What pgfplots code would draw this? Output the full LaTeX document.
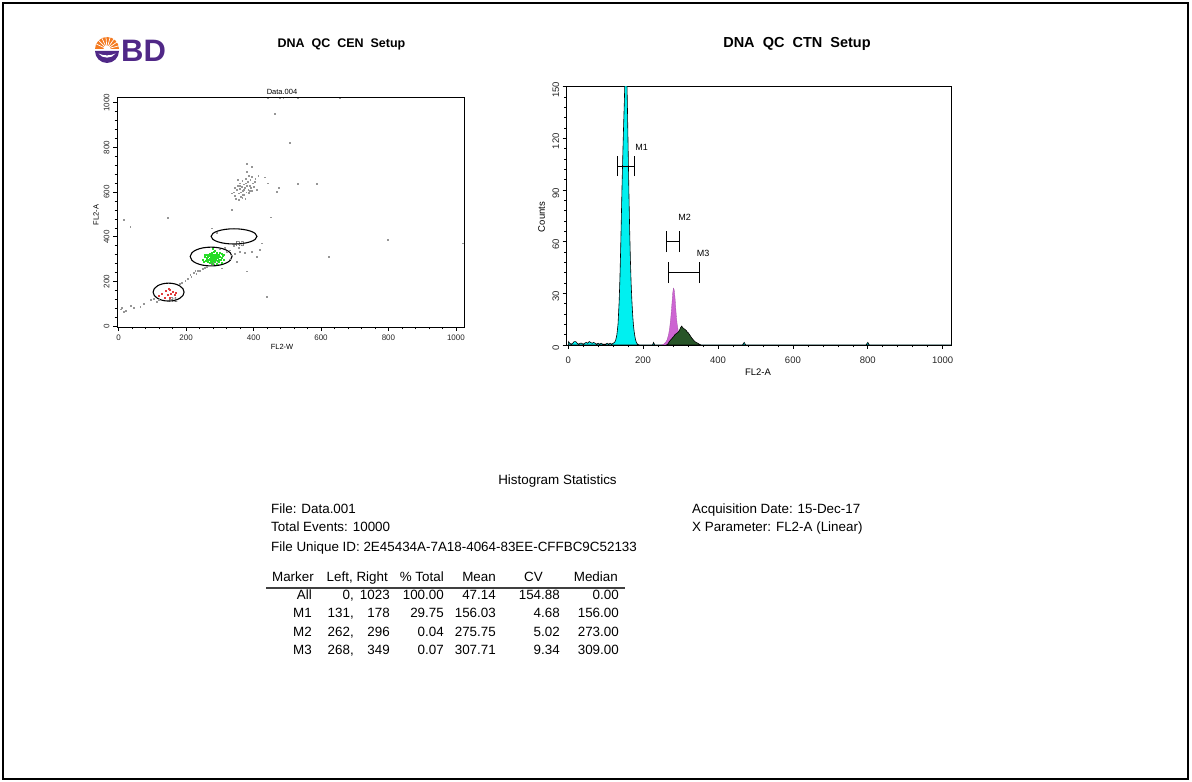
\documentclass[border=0pt]{standalone}
\usepackage{pgfplots}
\pgfplotsset{compat=1.18}
\usepackage{fontspec}
\setmainfont{Liberation Sans}
\definecolor{bdpurple}{RGB}{80,40,135}
\definecolor{bdorange}{RGB}{244,122,32}
\definecolor{hcyan}{RGB}{0,240,240}
\definecolor{hmag}{RGB}{205,100,210}
\definecolor{hgreen}{RGB}{40,85,40}
\definecolor{ptgray}{RGB}{150,150,150}
\definecolor{ptgreen}{RGB}{40,220,40}
\definecolor{ptred}{RGB}{225,60,60}
\begin{document}
\begin{tikzpicture}[x=1pt,y=1pt]
\path (0,0) rectangle (1192,782);
\draw[line width=2.2pt] (3,3) rectangle (1188,779);
% ---------- BD logo ----------
\fill[bdorange] (95,733) arc[start angle=180,end angle=0,radius=12] -- cycle;
\foreach \a in {15,35,...,165} \draw[white,line width=0.7pt] (107,733) -- ++(\a:12.5);
\fill[white] (107,733) circle[radius=3.5];
\fill[bdpurple] (95,731) arc[start angle=180,end angle=360,radius=12] -- cycle;
\fill[white] (98.5,728.5) .. controls (102,723) and (112,723) .. (115.5,728.5) .. controls (111,726) and (103,726) .. (98.5,728.5);
\node[anchor=west,inner sep=0pt,text=bdpurple,font=\bfseries\fontsize{31}{31}\selectfont] at (121,731) {BD};
% ---------- titles ----------
\node[font=\bfseries\fontsize{12.5}{12.5}\selectfont] at (341.5,738) {DNA\ \ QC\ \ CEN\ \ Setup};
\node[font=\bfseries\fontsize{14.5}{14.5}\selectfont] at (797,738) {DNA\ \ QC\ \ CTN\ \ Setup};
% ---------- scatter plot ----------
\begin{axis}[
  at={(117pt,455pt)}, anchor=south west, scale only axis,
  width=347pt, height=229.5pt,
  xmin=-5, xmax=1024, ymin=-3, ymax=1023,
  xtick={0,200,...,1000}, ytick={0,200,...,1000},
  minor x tick num=4, minor y tick num=4,
  tick pos=left, tick align=outside,
  major tick length=4pt, minor tick length=2.5pt,
  every tick/.style={black,line width=0.7pt},
  every minor tick/.style={black,line width=0.6pt},
  axis line style={line width=0.7pt},
  ticklabel style={font=\fontsize{8}{8}\selectfont,text=black!85},
  yticklabel style={rotate=90,anchor=south},
  /pgf/number format/assume math mode=true,
  /pgf/number format/1000 sep={},
]
\addplot[only marks,mark=square*,mark size=0.4pt,color=ptgray] coordinates {
(340,600)(345,585)(350,610)(352,630)(355,595)(358,640)(360,615)(362,580)(364,625)(366,650)
(368,605)(370,635)(372,590)(374,620)(376,660)(378,600)(380,630)(382,645)(384,612)(386,598)
(388,628)(390,655)(392,618)(395,605)(398,640)(400,625)(405,660)(410,610)(348,570)(356,565)
(366,575)(375,570)(343,620)(336,595)(385,675)(395,670)(403,645)(380,690)(352,655)(362,600)
(371,612)(377,640)(389,608)(359,628)(367,588)
(5,77)(10,82)(15,67)(20,71)(35,92)(44,82)(64,89)(75,100)(94,119)(104,124)(112,110)(118,118)
(180,190)(187,196)(197,204)(205,212)(215,222)(222,240)(227,250)(235,248)(241,250)(248,256)
(255,262)(262,268)(212,230)(230,236)
(300,345)(315,350)(320,335)(330,340)(345,323)(360,335)(374,328)(394,335)(409,310)(419,342)
(424,372)(379,246)(438,134)(340,360)(355,350)(330,300)(335,318)(290,420)(276,439)(305,260)(350,290)
(463,952)(507,821)(15,476)(34,446)(145,484)(450,488)(335,521)(379,726)(394,712)(414,673)
(433,667)(443,640)(475,618)(468,603)(532,636)(588,636)(798,387)(623,312)(1019,372)
(443,1020)(478,1020)(488,1020)(532,1020)(655,1020)
};
\addplot[only marks,mark=square*,mark size=0.5pt,color=ptgreen] coordinates {
(250,300)(255,310)(258,295)(260,320)(262,305)(264,290)(266,315)(268,300)(270,325)(270,285)
(272,310)(273,295)(274,318)(275,305)(276,330)(277,290)(278,312)(279,300)(280,322)(280,280)
(281,308)(282,295)(283,335)(284,315)(285,302)(286,288)(287,320)(288,310)(289,298)(290,328)
(291,305)(292,315)(293,292)(294,322)(295,308)(296,300)(298,318)(300,312)(302,296)(304,325)
(306,305)(308,315)(310,300)(265,310)(268,318)(271,302)(274,298)(276,322)(279,315)(282,305)
(285,312)(288,300)(291,318)(294,310)(297,290)(300,330)(260,300)(256,318)(252,288)(286,340)
(278,345)(292,282)(305,285)(312,320)(284,298)(277,308)(281,318)(289,312)
};
\addplot[only marks,mark=square*,mark size=0.5pt,color=ptred] coordinates {
(120,135)(128,148)(135,128)(140,160)(145,140)(150,165)(152,130)(155,145)(160,155)(165,140)(170,150)(148,170)
};
\draw[line width=1.1pt] (axis cs:148,153) ellipse[x radius=46,y radius=40];
\draw[line width=1.1pt] (axis cs:274,312) ellipse[x radius=62,y radius=42];
\draw[line width=1.1pt] (axis cs:342,402) ellipse[x radius=68,y radius=34];
\node[font=\fontsize{7}{7}\selectfont,text=black!80] at (axis cs:162,116) {R1};
\node[font=\fontsize{7}{7}\selectfont,text=black!80] at (axis cs:286,283) {R2};
\node[font=\fontsize{7}{7}\selectfont,text=black!80] at (axis cs:360,369) {R3};
\end{axis}
\node[font=\fontsize{7.5}{7.5}\selectfont] at (282,690) {Data.004};
\node[font=\fontsize{7.5}{7.5}\selectfont] at (282,435) {FL2-W};
\node[font=\fontsize{7.5}{7.5}\selectfont,rotate=90] at (96,567) {FL2-A};
% ---------- histogram ----------
\begin{axis}[
  at={(566.7pt,437pt)}, anchor=south west, scale only axis,
  width=385pt, height=258.3pt,
  xmin=-4, xmax=1024, ymin=0, ymax=150,
  xtick={0,200,...,1000}, ytick={0,30,...,150},
  minor x tick num=4, minor y tick num=4,
  tick pos=left, tick align=outside,
  major tick length=4pt, minor tick length=2.5pt,
  every tick/.style={black,line width=0.7pt},
  every minor tick/.style={black,line width=0.6pt},
  axis line style={line width=0.7pt},
  ticklabel style={font=\fontsize{9.5}{9.5}\selectfont,text=black!85},
  xticklabel style={yshift=-4.5pt},
  yticklabel style={rotate=90,anchor=south,xshift=-3pt},
  /pgf/number format/assume math mode=true,
  /pgf/number format/1000 sep={},
]
\addplot[fill=hcyan,draw=black,line width=0.6pt] coordinates {
(0,0)(1,2)(4,1)(8,0.5)(12,1)(16,2)(20,2)(24,1)(28,0.5)(32,1)(36,1)(40,0.5)(44,1)(48,1.5)
(52,1)(56,2)(60,1.5)(64,1)(68,1.5)(72,1)(76,0.5)(80,1)(84,0.5)(88,1)(92,0.5)(96,0.5)(100,0.5)
(104,1)(108,0.5)(112,1)(116,0.5)(120,1)(124,1.5)(127,3)(130,6)(133,12)(136,25)(138,38)(140,55)
(142,75)(144,95)(146,112)(148,128)(150,142)(152,160)(154,170)(156,162)(158,140)(160,115)
(162,90)(164,68)(166,50)(168,36)(170,26)(172,18)(174,12)(176,8)(178,5)(180,3)(182,1.5)
(185,0.5)(190,0)(225,0)(228,1.5)(231,0)(465,0)(470,1.5)(474,0)(795,0)(800,1.5)(804,0)(1023,0)
} \closedcycle;
\addplot[fill=hmag,draw=hmag!80!black,line width=0.3pt] coordinates {
(250,0)(255,0.5)(260,1.5)(264,3)(268,6)(271,10)(274,16)(277,24)(279,30)(281,33)(283,32)
(285,28)(287,22)(289,16)(291,12)(294,8)(297,5)(300,3)(304,1.5)(308,0.5)(312,0)
} \closedcycle;
\addplot[fill=hgreen,draw=black,line width=0.6pt] coordinates {
(262,0)(266,0.5)(270,2)(274,3)(278,4)(282,5)(285,6)(288,6.5)(291,7)(294,7.5)(297,8.5)
(300,10)(303,11)(306,10)(309,9.5)(312,9)(315,8.5)(318,7.5)(321,7)(324,6)(327,5)(330,4)
(334,3)(338,2)(342,1.5)(346,1)(350,0.5)(354,0)
} \closedcycle;
\draw[black,line width=0.8pt] (axis cs:131,104) -- (axis cs:178,104);
\draw[black,line width=0.8pt] (axis cs:131,98) -- (axis cs:131,110);
\draw[black,line width=0.8pt] (axis cs:178,98) -- (axis cs:178,110);
\draw[black,line width=0.8pt] (axis cs:262,60) -- (axis cs:296,60);
\draw[black,line width=0.8pt] (axis cs:262,54) -- (axis cs:262,66);
\draw[black,line width=0.8pt] (axis cs:296,54) -- (axis cs:296,66);
\draw[black,line width=0.8pt] (axis cs:268,42) -- (axis cs:349,42);
\draw[black,line width=0.8pt] (axis cs:268,36) -- (axis cs:268,48);
\draw[black,line width=0.8pt] (axis cs:349,36) -- (axis cs:349,48);
\node[font=\fontsize{9}{9}\selectfont] at (axis cs:196,115) {M1};
\node[font=\fontsize{9}{9}\selectfont] at (axis cs:311,74) {M2};
\node[font=\fontsize{9}{9}\selectfont] at (axis cs:360,53) {M3};
\end{axis}
\node[font=\fontsize{9.5}{9.5}\selectfont,rotate=90] at (541.7,565) {Counts};
\node[font=\fontsize{9.5}{9.5}\selectfont] at (758,410) {FL2-A};
% ---------- statistics ----------
\begin{scope}[font=\fontsize{13.4}{13.4}\selectfont,every node/.style={inner sep=0pt}]
\node at (557.5,301) {Histogram Statistics};
\node[anchor=base west] at (271,268.5) {File: Data.001};
\node[anchor=base west] at (271,250.5) {Total Events: 10000};
\node[anchor=base west] at (271,230.5) {File Unique ID: 2E45434A-7A18-4064-83EE-CFFBC9C52133};
\node[anchor=base west] at (692,268.5) {Acquisition Date: 15-Dec-17};
\node[anchor=base west] at (692,250.5) {X Parameter: FL2-A (Linear)};
\node[anchor=base east] at (314,200.5) {Marker};
\node[anchor=base east] at (388,200.5) {Left, Right};
\node[anchor=base east] at (444,200.5) {\% Total};
\node[anchor=base east] at (496,200.5) {Mean};
\node[anchor=base east] at (543,200.5) {CV};
\node[anchor=base east] at (618,200.5) {Median};
\draw[black!75,line width=1.6pt] (266,194) -- (625,194);
\foreach \r/\m/\l/\rr/\p/\me/\c/\md in {
  182.5/All/{0,}/1023/100.00/47.14/154.88/0.00,
  164/M1/{131,}/178/29.75/156.03/4.68/156.00,
  145.5/M2/{262,}/296/0.04/275.75/5.02/273.00,
  127/M3/{268,}/349/0.07/307.71/9.34/309.00}{
  \node[anchor=base east] at (312,\r) {\m};
  \node[anchor=base east] at (354,\r) {\l};
  \node[anchor=base east] at (390,\r) {\rr};
  \node[anchor=base east] at (444,\r) {\p};
  \node[anchor=base east] at (496,\r) {\me};
  \node[anchor=base east] at (560,\r) {\c};
  \node[anchor=base east] at (619,\r) {\md};
}
\end{scope}
\end{tikzpicture}
\end{document}
